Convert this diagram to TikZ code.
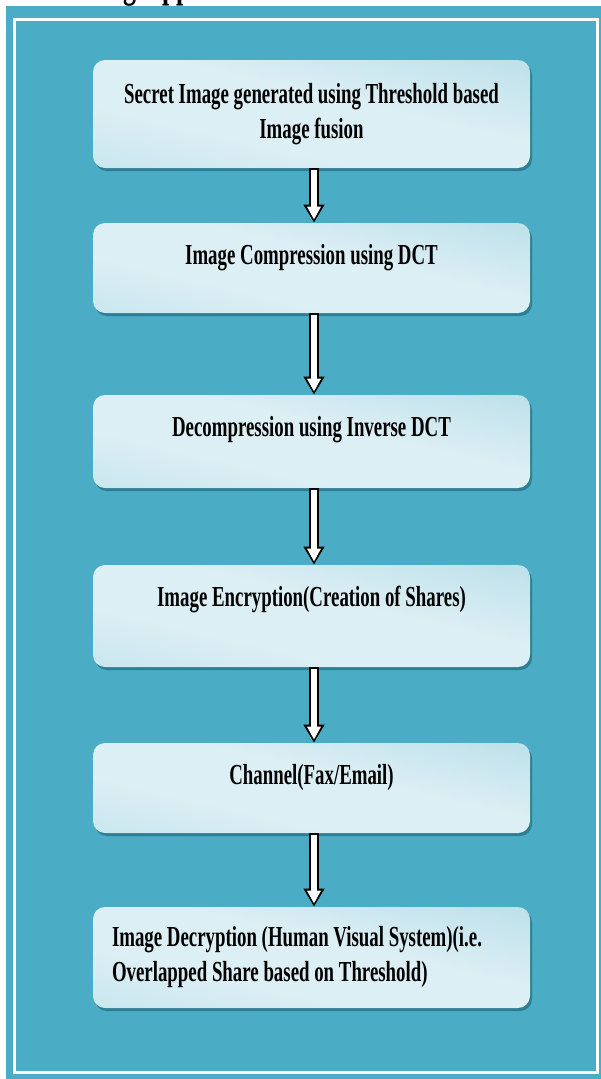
\documentclass[tikz,border=0pt]{standalone}
\usepackage{fontspec}
\setmainfont[FakeStretch=0.65]{Liberation Serif}
\usetikzlibrary{arrows.meta,shadows}

\definecolor{panel}{HTML}{4BACC6}
\definecolor{boxlight}{HTML}{DCEFF4}
\definecolor{boxmid}{HTML}{B4DDE8}
\definecolor{boxdark}{HTML}{A4D4E1}
\definecolor{boxshadow}{HTML}{2D7E92}

% glossy fill of the step boxes
\pgfdeclarehorizontalshading{boxshade}{100bp}{color(0bp)=(boxmid); color(38bp)=(boxlight);
  color(56bp)=(boxlight); color(100bp)=(boxdark)}

\begin{document}
\begin{tikzpicture}[x=1pt,y=-1pt,node distance=172pt,
  thick,font=\fontsize{29}{35}\selectfont\bfseries,
  main node/.style={rectangle,rounded corners=12pt,minimum width=437pt,inner sep=0pt,
    shading=boxshade,shading angle=77,
    drop shadow={shadow xshift=2pt,shadow yshift=-3pt,fill=boxshadow,opacity=1}},
  one line/.style={main node,text height=41pt},
  flow/.style={line width=10pt,-{Triangle[length=18pt,width=20pt]},black,
    postaction={draw,white,line width=6pt,-{Triangle[length=13pt,width=13pt]},
      shorten >=3pt,shorten <=1.5pt}}]
  \useasboundingbox (0,0) rectangle (601,1079);

  % heading above the panel
  \node[anchor=base west,font=\fontsize{40}{48}\selectfont\bfseries] (h) at (35,-3) {Working Approach};

  % panel and its white border
  \fill[panel] (6,6) rectangle (601,1079);
  \draw[white,line width=3pt] (14,19) rectangle (597,1072);

  \node[main node,minimum height=108pt,align=center] (1) at (311.5,114)
    {Secret Image generated using Threshold based\\Image fusion};
  \node[one line,text depth=49pt,node distance=154pt] (2) [below of=1] {Image Compression using DCT};
  \node[one line,text depth=52pt,node distance=173.5pt] (3) [below of=2] {Decompression using Inverse DCT};
  \node[one line,text depth=61pt,node distance=174.5pt] (4) [below of=3] {Image Encryption(Creation of Shares)};
  \node[one line,text depth=49pt] (5) [below of=4] {Channel(Fax/Email)};
  \node[main node,minimum height=101pt,align=flush left,text width=399pt,inner xsep=19pt,
    node distance=169.5pt] (6) [below of=5]
    {Image Decryption (Human Visual System)(i.e.\\Overlapped Share based on Threshold)};

  \path ([xshift=2.5pt]1.south) edge[flow] ([xshift=2.5pt]2.north)
        ([xshift=2.5pt]2.south) edge[flow] ([xshift=2.5pt]3.north)
        ([xshift=2.5pt]3.south) edge[flow] ([xshift=2.5pt]4.north)
        ([xshift=2.5pt]4.south) edge[flow] ([xshift=2.5pt]5.north)
        ([xshift=2.5pt]5.south) edge[flow] ([xshift=2.5pt]6.north);
\end{tikzpicture}
\end{document}
